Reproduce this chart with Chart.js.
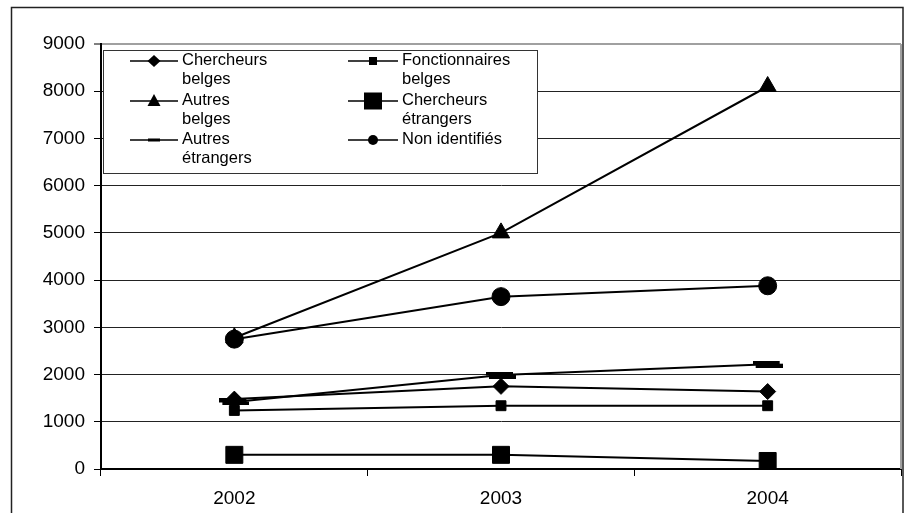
<!DOCTYPE html>
<html>
<head>
<meta charset="utf-8">
<script src="https://cdn.jsdelivr.net/npm/chart.js@4.4.1/dist/chart.umd.min.js"></script>
<style>
  html, body { margin: 0; padding: 0; background: #fff; }
  #wrap { width: 905px; height: 513px; }
</style>
</head>
<body>
<div id="wrap"><canvas id="chart" width="905" height="513"></canvas></div>
<script>
// Years on the category axis
const years = ['2002', '2003', '2004'];

// Counts per group and year
const chercheursBelges     = [1480, 1750, 1640];
const fonctionnairesBelges = [1240, 1340, 1340];
const autresBelges         = [2780, 5000, 8100];
const chercheursEtrangers  = [300, 300, 170];
const autresEtrangers      = [1420, 1990, 2220];
const nonIdentifies        = [2750, 3650, 3880];

// Value axis ticks
const yTicks = [0, 1000, 2000, 3000, 4000, 5000, 6000, 7000, 8000, 9000];

// Legend labels, split over lines as they are printed
const seriesLabels = [
  ['Chercheurs', 'belges'],
  ['Fonctionnaires', 'belges'],
  ['Autres', 'belges'],
  ['Chercheurs', 'étrangers'],
  ['Autres', 'étrangers'],
  ['Non identifiés']
];

const FONT = '"Liberation Sans", Arial, Helvetica, sans-serif';

// Thick doubled dash used as the marker of "Autres étrangers"
function dashGlyph(w, h, off) {
  const c = document.createElement('canvas');
  c.width = w + off;
  c.height = h + off;
  const g = c.getContext('2d');
  g.fillStyle = '#000';
  g.fillRect(0, 0, w, h);
  g.fillRect(off, off, w, h);
  return c;
}

const markers = [
  { pointStyle: 'rectRot', radius: 8 },
  { pointStyle: 'rect', radius: 7 },
  { pointStyle: 'triangle', radius: 10 },
  { pointStyle: 'rect', radius: 12 },
  { pointStyle: dashGlyph(27, 4, 3), radius: 10 },
  { pointStyle: 'circle', radius: 9 }
];

const seriesData = [chercheursBelges, fonctionnairesBelges, autresBelges,
                    chercheursEtrangers, autresEtrangers, nonIdentifies];

const datasets = seriesData.map((d, i) => ({
  label: seriesLabels[i].join(' '),
  data: d,
  borderColor: '#000',
  backgroundColor: '#000',
  borderWidth: 2,
  pointStyle: markers[i].pointStyle,
  pointRadius: markers[i].radius,
  pointHoverRadius: markers[i].radius,
  pointBackgroundColor: '#000',
  pointBorderColor: '#000',
  pointBorderWidth: 1,
  tension: 0,
  fill: false,
  // later series are painted above earlier ones
  order: seriesData.length - 1 - i
}));

// Outer frame of the chart and the grey right edge of the plot area
const framePlugin = {
  id: 'frame',
  beforeDraw(chart) {
    const ctx = chart.ctx;
    ctx.save();
    ctx.fillStyle = '#fff';
    ctx.fillRect(0, 0, chart.width, chart.height);
    ctx.strokeStyle = '#222';
    ctx.lineWidth = 1.5;
    ctx.strokeRect(11.5, 7.5, 891.5, 530);
    ctx.restore();
  },
  beforeDatasetsDraw(chart) {
    const { ctx, chartArea } = chart;
    ctx.save();
    ctx.strokeStyle = '#a0a0a0';
    ctx.lineWidth = 2;
    ctx.beginPath();
    ctx.moveTo(chartArea.right, chartArea.top);
    ctx.lineTo(chartArea.right, chartArea.bottom);
    ctx.stroke();
    ctx.restore();
  }
};

function drawLegendMarker(ctx, i, x, y) {
  ctx.fillStyle = '#000';
  ctx.beginPath();
  switch (i) {
    case 0: // diamond
      ctx.moveTo(x, y - 6); ctx.lineTo(x + 6.5, y); ctx.lineTo(x, y + 6); ctx.lineTo(x - 6.5, y);
      ctx.closePath(); ctx.fill(); break;
    case 1: // small square
      ctx.fillRect(x - 4, y - 4, 8, 8); break;
    case 2: // triangle
      ctx.moveTo(x, y - 7); ctx.lineTo(x + 6.5, y + 5); ctx.lineTo(x - 6.5, y + 5);
      ctx.closePath(); ctx.fill(); break;
    case 3: // large square
      ctx.fillRect(x - 9, y - 8.5, 18, 17); break;
    case 4: // dash
      ctx.fillRect(x - 6, y - 1.5, 12, 3); break;
    case 5: // dot
      ctx.arc(x, y, 5, 0, Math.PI * 2); ctx.fill(); break;
  }
}

// Boxed legend in two columns with wrapped labels
const boxLegendPlugin = {
  id: 'boxLegend',
  afterDatasetsDraw(chart) {
    const ctx = chart.ctx;
    const box = { x: 103.5, y: 50.5, w: 434, h: 123 };
    const rowY = [60, 100, 139];
    const cols = [{ x0: 130, x1: 178, tx: 182 }, { x0: 348, x1: 398, tx: 402 }];
    ctx.save();
    ctx.fillStyle = '#fff';
    ctx.fillRect(box.x, box.y, box.w, box.h);
    ctx.strokeStyle = '#333';
    ctx.lineWidth = 1;
    ctx.strokeRect(box.x, box.y, box.w, box.h);
    ctx.font = '16.5px ' + FONT;
    ctx.textBaseline = 'middle';
    ctx.textAlign = 'left';
    seriesLabels.forEach((lines, i) => {
      const col = cols[i % 2];
      const y = rowY[Math.floor(i / 2)] + 1;
      ctx.strokeStyle = '#000';
      ctx.lineWidth = 1.5;
      ctx.beginPath();
      ctx.moveTo(col.x0, y);
      ctx.lineTo(col.x1, y);
      ctx.stroke();
      drawLegendMarker(ctx, i, (col.x0 + col.x1) / 2, y);
      ctx.fillStyle = '#000';
      lines.forEach((t, k) => ctx.fillText(t, col.tx, y - 1 + k * 19.5));
    });
    ctx.restore();
  }
};

new Chart(document.getElementById('chart'), {
  type: 'line',
  data: { labels: years, datasets },
  plugins: [framePlugin, boxLegendPlugin],
  options: {
    responsive: false,
    animation: false,
    devicePixelRatio: 1,
    layout: { autoPadding: false, padding: { left: 11, top: 44, right: 4, bottom: 0 } },
    plugins: {
      legend: { display: false },
      tooltip: { enabled: false },
      title: { display: false }
    },
    events: [],
    scales: {
      x: {
        type: 'category',
        offset: true,
        grid: {
          display: true,
          offset: true,
          drawOnChartArea: false,
          drawTicks: true,
          tickLength: 7,
          tickColor: '#000',
          tickWidth: 1
        },
        border: { display: true, color: '#000', width: 2 },
        ticks: { color: '#000', font: { family: FONT, size: 19 }, padding: 11, maxRotation: 0 },
        afterFit(s) { s.height = 44; s.paddingLeft = 0; s.paddingRight = 0; }
      },
      y: {
        min: 0,
        max: 9000,
        afterBuildTicks(s) { s.ticks = yTicks.map(v => ({ value: v })); },
        grid: {
          color: c => (c.tick && c.tick.value === 9000) ? '#a0a0a0' : '#222',
          lineWidth: c => (c.tick && c.tick.value === 9000) ? 2 : 1,
          tickLength: 7,
          tickColor: '#000',
          tickWidth: 1
        },
        border: { display: true, color: '#000', width: 2 },
        ticks: { color: '#000', font: { family: FONT, size: 19 }, padding: 9, callback: v => String(v) },
        afterFit(s) { s.width = 90; s.paddingTop = 0; s.paddingBottom = 0; }
      }
    }
  }
});
</script>
</body>
</html>
